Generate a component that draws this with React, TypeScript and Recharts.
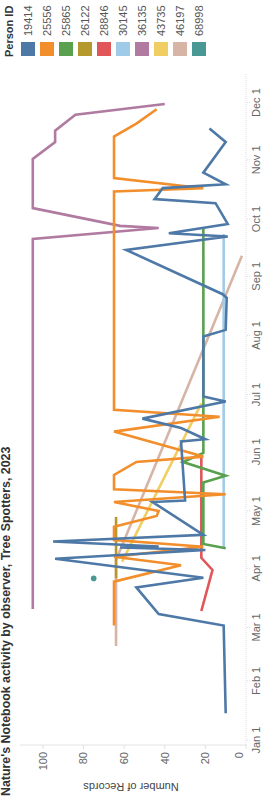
import { LineChart, Line, XAxis, YAxis } from "recharts"

// Person IDs and their Tableau colours (legend order)
const personIds = ["19414", "25556", "25865", "26122", "28846", "30145", "36135", "43735", "46197", "68998"]
const personColors = ["#4e79a7", "#f28e2b", "#59a14f", "#b6992d", "#e15759", "#a0cbe8", "#b07aa1", "#f1ce63", "#d7b5a6", "#499894"]

// x ticks: first day of each month, as day of year 2023 (0 = Jan 1)
const monthNames = ["Jan", "Feb", "Mar", "Apr", "May", "Jun", "Jul", "Aug", "Sep", "Oct", "Nov", "Dec"]
const monthStartDays = [0, 31, 59, 90, 120, 151, 181, 212, 243, 273, 304, 334]
const recordTicks = [0, 20, 40, 60, 80, 100]

// [day of year, number of records]
const p19414 = [
  [14, 10], [60, 11], [66, 43], [80, 54], [85, 21], [95, 94], [99.6, 20], [100.9, 62], [101.4, 43],
  [104, 95], [107.5, 21], [124.7, 46], [125.5, 30], [156.4, 32], [157.6, 20], [163.5, 32], [168.4, 51],
  [177.4, 10], [180, 21], [211.4, 21], [214.9, 10], [231.7, 9.5], [233.6, 11.5], [256.8, 59], [263.8, 9],
  [265.5, 38], [270.4, 9], [281.3, 15], [283.4, 45], [289.2, 41], [291.2, 10], [297.3, 21], [313.3, 10],
  [320.4, 18],
]
const p25556 = [
  [60, 65], [83, 65], [91.6, 32], [96, 65], [101.3, 21], [104.8, 65], [111.8, 65], [117.4, 44], [120, 43],
  [124.7, 65], [128.8, 10], [131.4, 65], [138.9, 65], [145.7, 54], [148.5, 21], [161.6, 65], [169.4, 13],
  [173, 65], [287.4, 65], [289.1, 21], [294.4, 65], [316.2, 65], [323, 54], [330.5, 44],
]
const p25865 = [[100.5, 10], [102.7, 21], [135, 21], [138.5, 10], [145.7, 31], [150.4, 21], [267.7, 21]]
const p26122 = [[84.7, 64], [116.9, 64]]
const p28846 = [[67.6, 22], [89.1, 16.5], [95.5, 22], [148.5, 22]]
const p30145 = [[100.3, 11], [265.1, 11]]
const p36135 = [
  [68.7, 105], [262.6, 105], [268.3, 43], [269.4, 62], [278.7, 105], [304.5, 105], [313.3, 94],
  [319.3, 94], [327.6, 84], [333.3, 40],
]
const p43735 = [[93.5, 61], [176.4, 22]]
const p46197 = [[49.3, 64], [94.3, 64], [253.7, 2]]
const p68998 = [[84.7, 75]]

const personRows = [p19414, p25556, p25865, p26122, p28846, p30145, p36135, p43735, p46197, p68998]

const series = personIds.map((id, i) => ({
  id,
  color: personColors[i],
  data: personRows[i].map(([d, v]) => ({ d, v })),
}))

const font = "'Liberation Sans', Arial, sans-serif"

function RecordTick(props: any) {
  const { x, y, payload } = props
  // Tableau nudges the 0 label up so it clears the date axis
  const yy = payload.value === 0 ? y - 7 : y
  return (
    <text x={x} y={yy} dy="0.35em" textAnchor="end" fill="#666" fontSize={11} fontFamily={font}>
      {payload.value}
    </text>
  )
}

function Chart() {
  return (
    <div style={{ position: "relative", width: 800, height: 267, background: "#fff", fontFamily: font }}>
      <div
        style={{
          position: "absolute",
          left: 4,
          top: 0,
          fontSize: 12.4,
          lineHeight: "13px",
          fontWeight: "bold",
          color: "#333",
          whiteSpace: "nowrap",
        }}
      >
        Nature's Notebook activity by observer, Tree Spotters, 2023
      </div>
      <LineChart width={800} height={267} margin={{ top: 20, right: 73, bottom: 0, left: 0 }}>
        <XAxis
          dataKey="d"
          type="number"
          domain={[-2.6, 349.5]}
          allowDataOverflow
          ticks={monthStartDays}
          tickFormatter={(d) => `${monthNames[monthStartDays.indexOf(d)]} 1`}
          height={21}
          tickSize={4}
          tickMargin={2}
          stroke="#ddd"
          strokeDasharray="1 1"
          tick={{ fill: "#666", fontSize: 11, fontFamily: font }}
          interval={0}
        />
        <YAxis
          dataKey="v"
          type="number"
          domain={[0, 111.3]}
          allowDataOverflow
          ticks={recordTicks}
          width={55}
          tickSize={4}
          tickMargin={3}
          stroke="#e2e2e2"
          tick={RecordTick}
          label={{
            content: () => (
              <text
                x={17}
                y={131}
                transform="rotate(-90 17 131)"
                textAnchor="middle"
                fill="#444"
                fontSize={11}
                fontFamily={font}
              >
                Number of Records
              </text>
            ),
          }}
        />
        {series
          .slice()
          .reverse()
          .map((s) => (
            <Line
              key={s.id}
              name={s.id}
              data={s.data}
              dataKey="v"
              stroke={s.color}
              strokeWidth={2.6}
              dot={s.data.length === 1 ? { r: 2.8, fill: s.color, stroke: s.color, strokeWidth: 0 } : false}
              activeDot={false}
              isAnimationActive={false}
            />
          ))}
      </LineChart>
      <div style={{ position: "absolute", left: 743, top: 3, fontSize: 11, fontWeight: "bold", color: "#333" }}>
        Person ID
      </div>
      {series.map((s, i) => (
        <div
          key={s.id}
          style={{ position: "absolute", left: 744, top: 21 + i * 19, height: 14, display: "flex", alignItems: "center" }}
        >
          <div style={{ width: 14, height: 14, background: s.color }} />
          <span style={{ marginLeft: 6, fontSize: 11, color: "#555" }}>{s.id}</span>
        </div>
      ))}
    </div>
  )
}

export default function App() {
  return (
    <div style={{ position: "absolute", left: 0, top: 0, width: 267, height: 800, overflow: "hidden", background: "#fff" }}>
      <div
        style={{
          position: "absolute",
          left: 0,
          top: 0,
          width: 800,
          height: 267,
          transformOrigin: "0 0",
          transform: "translateY(800px) rotate(-90deg)",
        }}
      >
        <Chart />
      </div>
    </div>
  )
}
